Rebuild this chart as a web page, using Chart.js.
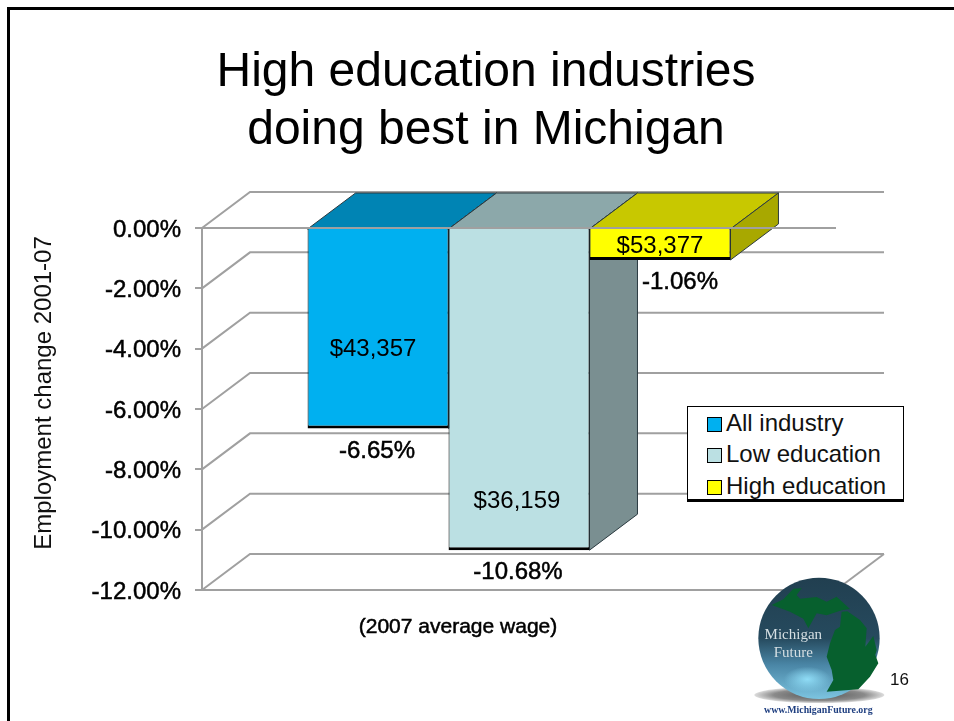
<!DOCTYPE html>
<html>
<head>
<meta charset="utf-8">
<title>High education industries doing best in Michigan</title>
<script src="https://cdn.jsdelivr.net/npm/chart.js@4"></script>
<style>
  html, body { margin: 0; padding: 0; background: #fff; }
  body { position: relative; width: 954px; height: 721px; overflow: hidden; font-family: "Liberation Sans", Arial, sans-serif; }
  #frame { position: absolute; left: 7px; top: 7px; right: 0; bottom: 0; border-left: 3px solid #000; border-top: 3px solid #000; }
  #projectChart { position: absolute; left: 0; top: 0; }
  #legend { position: absolute; left: 687px; top: 406px; width: 215px; height: 92px; background: #fff; border: 1px solid #000; border-bottom-width: 3px; }
  #legend div { position: absolute; left: 19px; height: 30px; line-height: 30px; font-size: 24px; white-space: nowrap; color: #111; }
  #legend i { display: inline-block; width: 13px; height: 13px; border: 1px solid #000; margin-right: 4px; vertical-align: -1px; }
  #pageNumber { position: absolute; left: 890px; top: 670px; font-size: 17px; color: #111; }
  #logo { position: absolute; left: 730px; top: 540px; }
</style>
</head>
<body>
<div id="frame"></div>
<canvas id="projectChart" width="954" height="721"></canvas>
<div id="legend"></div>
<svg id="logo" width="224" height="181" viewBox="0 0 672 543">
  <defs>
    <linearGradient id="globe" x1="0" y1="0" x2="0" y2="1">
      <stop offset="0" stop-color="#213f50"/>
      <stop offset="0.5" stop-color="#264a5e"/>
      <stop offset="0.72" stop-color="#4a86a6"/>
      <stop offset="1" stop-color="#7cc4e0"/>
    </linearGradient>
    <radialGradient id="spot">
      <stop offset="0" stop-color="#8fdcf6"/>
      <stop offset="1" stop-color="#8fdcf6" stop-opacity="0"/>
    </radialGradient>
    <radialGradient id="shadow">
      <stop offset="0" stop-color="#555"/>
      <stop offset="0.7" stop-color="#8a8a8a"/>
      <stop offset="1" stop-color="#ddd"/>
    </radialGradient>
  </defs>
  <ellipse cx="268" cy="465" rx="195" ry="24" fill="url(#shadow)"/>
  <circle cx="267" cy="295" r="182" fill="url(#globe)"/>
  <ellipse cx="232" cy="418" rx="70" ry="38" fill="url(#spot)"/>
  <path fill="#07602e" d="M125 195 L160 178 L190 146 L215 145 L200 165 L210 176 L260 171 L290 185 L320 170 L360 207 L335 211 L290 226 L260 220 L235 265 L220 236 L180 215 Z"/>
  <path fill="#07602e" d="M335 215 L352 214 L390 240 L410 265 L406 320 L430 288 L440 330 L436 345 L445 370 L420 410 L385 448 L290 455 L310 420 L305 390 L290 350 L300 310 L315 270 L330 260 Z"/>
  <text x="190" y="296" text-anchor="middle" font-family="Liberation Serif" font-size="45" fill="#d5dfe3">Michigan</text>
  <text x="190" y="350" text-anchor="middle" font-family="Liberation Serif" font-size="45" fill="#d5dfe3">Future</text>
  <text x="265" y="520" text-anchor="middle" font-family="Liberation Serif" font-size="29.5" font-weight="bold" fill="#1f3f80">www.MichiganFuture.org</text>
</svg>
<div id="pageNumber">16</div>

<script>
const categories = ['Michigan'];
const seriesNames = ['All industry', 'Low education', 'High education'];
const allIndustry = [-6.65];
const lowEducation = [-10.68];
const highEducation = [-1.06];
const wageLabels = ['$43,357', '$36,159', '$53,377'];

const frontColors = ['#00B0F0', '#BBE0E3', '#FFFF00'];
const topColors = ['#0084B4', '#8CA8AA', '#C8C800'];
const sideColors = ['#006C94', '#7A8F91', '#A8A800'];
const gridGray = '#A0A0A0';
const depthX = 48;
const depthY = 36;
const fontFamily = '"Liberation Sans", Arial, sans-serif';

// label nudges from the bar, the picture does not keep them centred
const wageNudge = [[-5, 21], [-2, 112], [0, 2]];
const percentNudge = [[-1, 23], [-1, 22], [20, 22]];

function ready( fn ) {
  if ( document.readyState !== "loading" ) {
    fn();
  } else {
    document.addEventListener( "DOMContentLoaded", fn );
  }
}

function face( ctx, points, color ) {
  ctx.beginPath();
  points.forEach( function ( p, i ) {
    if ( i === 0 ) {
      ctx.moveTo( p[0], p[1] );
    } else {
      ctx.lineTo( p[0], p[1] );
    }
  } );
  ctx.closePath();
  ctx.fillStyle = color;
  ctx.fill();
  ctx.lineWidth = 1;
  ctx.strokeStyle = '#2b3a40';
  ctx.stroke();
}

// back wall lines and the left side wall
const wallsPlugin = {
  id: 'walls',
  beforeDatasetsDraw( chart ) {
    const ctx = chart.ctx;
    const y = chart.scales.y;
    const area = chart.chartArea;
    ctx.save();
    ctx.strokeStyle = gridGray;
    ctx.lineWidth = 2;
    y.ticks.forEach( function ( tick ) {
      const py = y.getPixelForValue( tick.value );
      ctx.beginPath();
      ctx.moveTo( area.left, py );
      ctx.lineTo( area.left + depthX, py - depthY );
      ctx.lineTo( area.right + depthX, py - depthY );
      ctx.stroke();
    } );
    ctx.beginPath();
    ctx.moveTo( area.right + depthX, area.bottom - depthY );
    ctx.lineTo( area.right, area.bottom );
    ctx.stroke();
    ctx.restore();
  }
};

// top and side faces of each bar, the front comes from Chart.js
const depthPlugin = {
  id: 'depth',
  beforeDatasetsDraw( chart ) {
    const ctx = chart.ctx;
    ctx.save();
    chart.data.datasets.forEach( function ( ds, i ) {
      const bar = chart.getDatasetMeta( i ).data[0];
      const half = bar.width / 2;
      const left = bar.x - half;
      const right = bar.x + half;
      const top = bar.base;
      const bottom = bar.y;
      face( ctx, [[left, top], [left + depthX, top - depthY], [right + depthX, top - depthY], [right, top]], topColors[i] );
      face( ctx, [[right, top], [right + depthX, top - depthY], [right + depthX, bottom - depthY], [right, bottom]], sideColors[i] );
    } );
    ctx.restore();
  }
};

const textPlugin = {
  id: 'slideText',
  afterDraw( chart ) {
    const ctx = chart.ctx;
    ctx.save();
    ctx.textAlign = 'center';
    ctx.textBaseline = 'middle';
    ctx.fillStyle = '#000';

    chart.data.datasets.forEach( function ( ds, i ) {
      const bar = chart.getDatasetMeta( i ).data[0];
      ctx.font = '24px ' + fontFamily;
      ctx.fillText( wageLabels[i], bar.x + wageNudge[i][0], ( bar.base + bar.y ) / 2 + wageNudge[i][1] );
      ctx.lineWidth = 0.5;
      ctx.strokeStyle = '#000';
      const text = ds.data[0].toFixed( 2 ) + '%';
      ctx.fillText( text, bar.x + percentNudge[i][0], bar.y + percentNudge[i][1] );
      ctx.strokeText( text, bar.x + percentNudge[i][0], bar.y + percentNudge[i][1] );
    } );

    ctx.font = '21px ' + fontFamily;
    ctx.fillText( '(2007 average wage)', 458, 627 );
    ctx.strokeText( '(2007 average wage)', 458, 627 );

    ctx.textBaseline = 'alphabetic';
    ctx.font = '48px ' + fontFamily;
    ctx.fillText( 'High education industries', 486, 86 );
    ctx.fillText( 'doing best in Michigan', 486, 144 );

    ctx.translate( 51, 393 );
    ctx.rotate( -Math.PI / 2 );
    ctx.font = '24px ' + fontFamily;
    ctx.fillStyle = '#111';
    ctx.fillText( 'Employment change 2001-07', 0, 0 );
    ctx.restore();
  }
};

function buildLegend() {
  const box = document.getElementById( 'legend' );
  seriesNames.forEach( function ( name, i ) {
    const row = document.createElement( 'div' );
    row.style.top = ( 0.5 + i * 31.5 ) + 'px';
    const swatch = document.createElement( 'i' );
    swatch.style.background = frontColors[i];
    row.appendChild( swatch );
    row.appendChild( document.createTextNode( name ) );
    box.appendChild( row );
  } );
}

function projectChart() {
  const ctx = document.getElementById( 'projectChart' ).getContext( '2d' );
  const seriesValues = [allIndustry, lowEducation, highEducation];

  Chart.defaults.font.family = fontFamily;

  const data = {
    labels: categories,
    datasets: seriesNames.map( function ( name, i ) {
      return {
        label: name,
        data: seriesValues[i],
        backgroundColor: frontColors[i],
        borderColor: '#000',
        borderWidth: { top: 0, right: 1, bottom: 3, left: 1 },
        borderSkipped: false
      };
    } )
  };

  const config = {
    type: 'bar',
    data: data,
    options: {
      responsive: false,
      animation: false,
      events: [],
      categoryPercentage: 0.667,
      barPercentage: 1,
      layout: {
        padding: { top: 228, right: 118, bottom: 131, left: 0 }
      },
      plugins: {
        legend: { display: false },
        title: { display: false },
        tooltip: { enabled: false }
      },
      scales: {
        x: {
          afterFit: function ( scale ) {
            scale.height = 0;
          },
          ticks: { display: false },
          grid: { display: false },
          border: { display: false }
        },
        y: {
          min: -12,
          max: 0,
          afterFit: function ( scale ) {
            scale.width = 202;
          },
          ticks: {
            stepSize: 2,
            padding: 14,
            labelOffset: 2,
            color: '#000',
            font: { size: 24 },
            textStrokeColor: '#000',
            textStrokeWidth: 0.5,
            callback: function ( value ) {
              return value.toFixed( 2 ) + '%';
            }
          },
          grid: {
            z: 1,
            lineWidth: 2,
            tickLength: 7,
            tickColor: gridGray,
            color: function ( c ) {
              const v = c.tick ? c.tick.value : null;
              return v === 0 || v === -12 ? gridGray : 'transparent';
            }
          },
          // same z as the grid, the border needs the grid items computed first
          border: { z: 1, color: gridGray, width: 2 }
        }
      }
    },
    plugins: [wallsPlugin, depthPlugin, textPlugin]
  };
  const myChart = new Chart( ctx, config );
}

ready( function () {
  buildLegend();
  projectChart();
} );
</script>
</body>
</html>
